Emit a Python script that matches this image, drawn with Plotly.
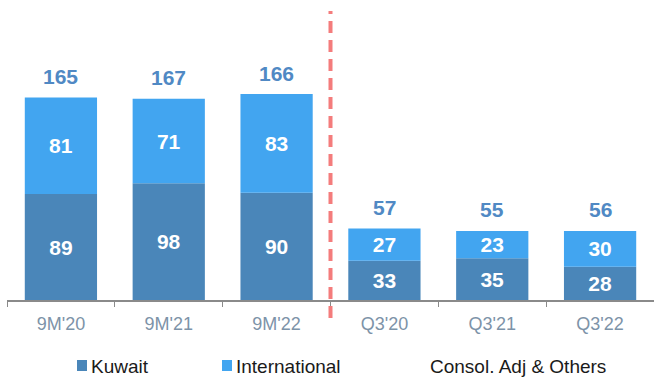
import plotly.graph_objects as go

categories = ["9M'20", "9M'21", "9M'22", "Q3'20", "Q3'21", "Q3'22"]
kuwait = [89, 98, 90, 33, 35, 28]
international = [81, 71, 83, 27, 23, 30]
consol_adj = [-5, -2, -7, -3, -3, -2]
totals = [165, 167, 166, 57, 55, 56]

C_KUW = "#4A86B9"
C_INT = "#42A5F0"
C_TOT = "#5089C4"
FONT = "Liberation Sans, Arial, sans-serif"

W, H = 654, 378
L, R, T, B = 7, 0, 0, 78
PW, PH = W - L - R, H - T - B


def px(x):
    return (x - L) / PW


def py(y):
    return (PH + T - y) / PH


fig = go.Figure()
fig.add_trace(go.Bar(
    x=categories, y=kuwait, name="Kuwait", marker=dict(color=C_KUW, line=dict(width=0)),
    text=kuwait, textposition="inside", insidetextanchor="middle", constraintext="none",
    textangle=0, textfont=dict(color="white", size=21, family=FONT, weight="bold"),
    showlegend=False, hoverinfo="skip"))
fig.add_trace(go.Bar(
    x=categories, y=international, name="International", marker=dict(color=C_INT, line=dict(width=0)),
    text=international, textposition="inside", insidetextanchor="middle", constraintext="none",
    textangle=0, textfont=dict(color="white", size=21, family=FONT, weight="bold"),
    showlegend=False, hoverinfo="skip"))
fig.add_trace(go.Bar(
    x=categories, y=consol_adj, name="Consol. Adj & Others", marker=dict(color="white", line=dict(width=0)),
    showlegend=False, hoverinfo="skip"))

for c, k, i, t in zip(categories, kuwait, international, totals):
    fig.add_annotation(x=c, y=k + i, text=str(t), showarrow=False, yanchor="middle", yshift=21,
                       font=dict(size=21, color=C_TOT, family=FONT, weight="bold"))

# divider
fig.add_shape(type="line", xref="x", yref="paper", x0=2.5, x1=2.5, y0=py(318), y1=py(11),
              line=dict(color="#F47C7C", width=4, dash="12px,7px"))

# legend
for x0, col, label in [(77, C_KUW, "Kuwait"), (222, C_INT, "International")]:
    fig.add_shape(type="rect", xref="paper", yref="paper", x0=px(x0), x1=px(x0 + 10),
                  y0=py(371), y1=py(360), fillcolor=col, line=dict(width=0))
    fig.add_annotation(xref="paper", yref="paper", x=px(x0 + 12), y=py(366), text=label,
                       showarrow=False, xanchor="left", yanchor="middle",
                       font=dict(size=19, color="#1a1a1a", family=FONT))
fig.add_annotation(xref="paper", yref="paper", x=px(428), y=py(366), text="Consol. Adj & Others",
                   showarrow=False, xanchor="left", yanchor="middle",
                   font=dict(size=19, color="#1a1a1a", family=FONT))

fig.update_layout(
    width=W, height=H, margin=dict(l=L, r=R, t=T, b=B),
    barmode="relative", bargap=0.33,
    plot_bgcolor="white", paper_bgcolor="white",
    font=dict(family=FONT),
    xaxis=dict(showline=True, linecolor="#8a8a8a", linewidth=1.5, ticks="outside",
               tickson="boundaries", ticklen=5, tickcolor="#8a8a8a", ticklabelstandoff=7,
               tickfont=dict(size=18, color="#7D93A8", family=FONT), showgrid=False),
    yaxis=dict(range=[0, 252], visible=False, showgrid=False),
)

fig.write_html("out.html")
